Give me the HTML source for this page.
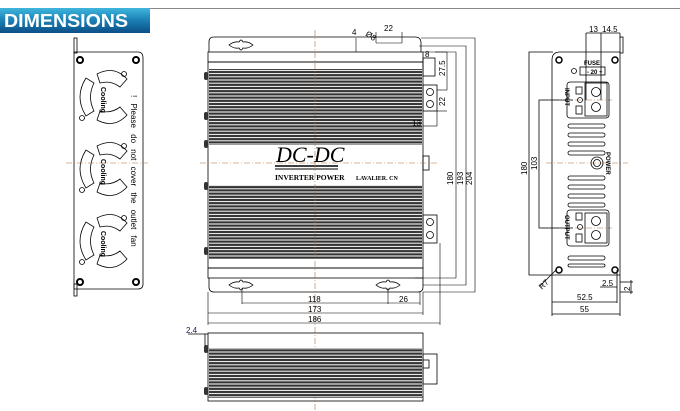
<!DOCTYPE html>
<html><head><meta charset="utf-8"><style>
html,body{margin:0;padding:0;background:#fff;width:680px;height:411px;overflow:hidden}
svg{display:block}
text{font-family:"Liberation Sans",sans-serif;fill:#000}
</style></head><body>
<svg width="680" height="411" viewBox="0 0 680 411" xmlns="http://www.w3.org/2000/svg">
<defs>
<linearGradient id="hg" x1="0" y1="0" x2="0" y2="1">
<stop offset="0" stop-color="#3fb6dc"/><stop offset="0.5" stop-color="#1a7fb4"/><stop offset="1" stop-color="#0b4f86"/>
</linearGradient>
<pattern id="fins" x="0" y="0" width="10" height="3.2" patternUnits="userSpaceOnUse">
<rect width="10" height="3.2" fill="#fff"/><rect y="0.5" width="10" height="2.2" fill="#333"/>
</pattern>
</defs>
<!-- header -->
<rect x="0" y="8" width="150" height="25" fill="url(#hg)"/>
<line x1="150" y1="8.5" x2="680" y2="8.5" stroke="#888" stroke-width="1"/>
<text x="4" y="27" font-size="18" font-weight="bold" fill="#fff" style="fill:#fff" textLength="124" lengthAdjust="spacingAndGlyphs">DIMENSIONS</text>

<g fill="none" stroke="#000" stroke-width="0.8">
<!-- left end view -->
<rect x="74" y="38" width="3" height="15"/>
<path d="M74 52 H138 Q143 52 143 58 V284 Q143 289 138 289 H74 Z"/>
<rect x="74" y="284" width="3" height="12"/>
<g stroke-width="2">
<circle cx="80" cy="60" r="3"/><circle cx="136" cy="60" r="3"/><circle cx="80" cy="282" r="3"/><circle cx="136" cy="282" r="3"/>
</g>
<g id="fan">
<path d="M86 78 q-12 19 0 38 l8 -5 q-7 -14 0 -28 z"/>
<path d="M97 74 q17 -9 30 5 l-7 8 q-9 -7 -20 -4 z"/>
<path d="M97 120 q17 9 30 -5 l-7 -8 q-9 7 -20 4 z"/>
<circle cx="124" cy="74" r="2.5"/><circle cx="82" cy="118" r="2.5"/>
</g>
<use href="#fan" y="72"/><use href="#fan" y="144"/>
</g>
<g font-size="7" font-weight="bold">
<text transform="translate(101,87) rotate(90)">Cooling</text>
<text transform="translate(101,159) rotate(90)">Cooling</text>
<text transform="translate(101,231) rotate(90)">Cooling</text>
<text transform="translate(131,95) rotate(90)" font-weight="normal" font-size="8" word-spacing="4">! Please do not cover the outlet fan</text>
</g>

<!-- main top view -->
<g fill="none" stroke="#000" stroke-width="0.8">
<path d="M209 52 V42 Q209 37 214 37 H415 Q421 37 421 43 V52"/>
<rect x="208" y="52" width="215" height="10"/>
<rect x="208" y="62" width="215" height="206"/>
<rect x="208" y="268" width="215" height="10"/>
<path d="M209 278 V287 Q209 292 214 292 H418 Q423 292 423 287 V278"/>
<path d="M229 45 q5 -4 10 -3 q2 -4 4 0 q5 -1 10 3 q-5 4 -10 3 q-2 4 -4 0 q-5 1 -10 -3z"/>
<path d="M229 285 q5 -4 10 -3 q2 -4 4 0 q5 -1 10 3 q-5 4 -10 3 q-2 4 -4 0 q-5 1 -10 -3z"/>
<path d="M376 285 q5 -4 10 -3 q2 -4 4 0 q5 -1 10 3 q-5 4 -10 3 q-2 4 -4 0 q-5 1 -10 -3z"/>
<rect x="423" y="58" width="12" height="18"/>
<rect x="423" y="85" width="14" height="26"/>
<circle cx="430" cy="92" r="3.5"/><circle cx="430" cy="104" r="3.5"/>
<rect x="423" y="156" width="6" height="14"/>
<rect x="423" y="215" width="14" height="28"/>
<circle cx="430" cy="222" r="3.5"/><circle cx="430" cy="235" r="3.5"/>
</g>
<rect x="209" y="69" width="213" height="76" fill="url(#fins)"/>
<rect x="209" y="185" width="213" height="74" fill="url(#fins)"/>
<g fill="#333"><rect x="204" y="72" width="4" height="8" rx="2"/><rect x="204" y="112" width="4" height="8" rx="2"/><rect x="204" y="140" width="4" height="8" rx="2"/><rect x="204" y="182" width="4" height="8" rx="2"/><rect x="204" y="247" width="4" height="8" rx="2"/></g>
<text x="276" y="162" font-size="22" font-style="italic" style="font-family:'Liberation Serif',serif">DC-DC</text>
<line x1="275" y1="166" x2="338" y2="166" stroke="#000" stroke-width="1.5"/>
<line x1="275" y1="169" x2="338" y2="169" stroke="#000" stroke-width="1"/>
<text x="275" y="180" font-size="7.5" font-weight="bold" style="font-family:'Liberation Serif',serif">INVERTER POWER</text>
<text x="356" y="180" font-size="6" font-weight="bold" style="font-family:'Liberation Serif',serif">LAVALIER. CN</text>

<g stroke="#b07040" stroke-width="0.6" stroke-dasharray="6,2,1,2">
<line x1="315" y1="30" x2="315" y2="411"/>
<line x1="66" y1="163" x2="148" y2="163"/>
<line x1="200" y1="163" x2="438" y2="163"/>
<line x1="546" y1="163" x2="628" y2="163"/>
<line x1="542" y1="100" x2="612" y2="100"/>
<line x1="542" y1="228" x2="612" y2="228"/>
</g>

<g fill="none" stroke="#000" stroke-width="0.6">
<polyline points="423,52 456,52 456,278 415,278"/>
<polyline points="419,46 466,46 466,285 423,285"/>
<polyline points="421,38 475,38 475,292 423,292"/>
<line x1="376" y1="43" x2="402" y2="43"/><line x1="376" y1="32" x2="376" y2="43"/><line x1="402" y1="32" x2="402" y2="43"/>
<line x1="356" y1="38" x2="356" y2="52"/>
<line x1="435" y1="52" x2="447" y2="52"/><line x1="447" y1="52" x2="447" y2="90"/>
<line x1="437" y1="90" x2="447" y2="90"/><line x1="437" y1="111" x2="447" y2="111"/>
<line x1="423" y1="126" x2="437" y2="126"/><line x1="437" y1="111" x2="437" y2="126"/>
<line x1="242" y1="288" x2="242" y2="304"/><line x1="388" y1="288" x2="388" y2="304"/><line x1="242" y1="303" x2="388" y2="303"/>
<line x1="388" y1="303" x2="420" y2="303"/><line x1="420" y1="292" x2="420" y2="305"/>
<line x1="208" y1="313" x2="423" y2="313"/><line x1="423" y1="292" x2="423" y2="315"/>
<line x1="208" y1="323" x2="440" y2="323"/><line x1="440" y1="243" x2="440" y2="325"/><line x1="208" y1="292" x2="208" y2="325"/>
</g>
<g font-size="8" style="fill:#1a1a60">
<text x="308" y="302">118</text><text x="399" y="302">26</text>
<text x="308" y="312">173</text><text x="308" y="322">186</text>
<text x="384" y="31">22</text><text x="365" y="35" transform="rotate(35 365 35)">Ø8</text>
<text x="352" y="35">4</text><text x="425" y="57">8</text><text x="412" y="126">13</text>
<text transform="translate(453,185) rotate(-90)">180</text>
<text transform="translate(463,185) rotate(-90)">193</text>
<text transform="translate(472,185) rotate(-90)">204</text>
<text transform="translate(445,76) rotate(-90)">27.5</text>
<text transform="translate(445,106) rotate(-90)">22</text>
</g>

<g fill="none" stroke="#000" stroke-width="0.8">
<rect x="208" y="333" width="215" height="68"/>
<line x1="208" y1="397" x2="423" y2="397"/>
<rect x="423" y="354" width="14" height="30"/><rect x="423" y="360" width="6" height="8"/>
<line x1="205" y1="334" x2="205" y2="352"/><line x1="188" y1="334" x2="208" y2="334"/>
</g>
<rect x="209" y="348" width="213" height="50" fill="url(#fins)"/>
<g fill="#333"><rect x="204" y="345" width="4" height="8" rx="2"/><rect x="204" y="387" width="4" height="8" rx="2"/></g>
<text x="186" y="333" font-size="8" style="fill:#1a1a60">2.4</text>

<g fill="none" stroke="#000" stroke-width="0.8">
<path d="M560 52 H620 V275 H552 V60 Q552 52 560 52Z"/>
<rect x="620" y="37" width="3" height="16"/>
<circle cx="559" cy="60" r="3" stroke-width="1.5"/><circle cx="615" cy="60" r="3" stroke-width="1.5"/>
<circle cx="559" cy="270" r="3" stroke-width="1.5"/><circle cx="615" cy="270" r="3" stroke-width="1.5"/>
<rect x="580" y="67" width="25" height="8"/><circle cx="574" cy="71" r="2.5"/>
<rect x="567" y="82" width="42" height="36" rx="3"/><rect x="585" y="83" width="22" height="33"/>
<circle cx="596" cy="92" r="4.5"/><circle cx="596" cy="107" r="4.5"/>
<rect x="576" y="87" width="6" height="7"/><rect x="576" y="106" width="6" height="8"/><circle cx="580" cy="100" r="2.5"/>
<rect x="567" y="210" width="42" height="36" rx="3"/><rect x="585" y="213" width="22" height="30"/>
<circle cx="596" cy="221" r="4.5"/><circle cx="596" cy="235" r="4.5"/>
<rect x="576" y="213" width="6" height="7"/><rect x="576" y="234" width="6" height="8"/><circle cx="580" cy="227" r="2.5"/>
<circle cx="597" cy="163" r="6"/><circle cx="597" cy="163" r="3.5"/>
<g><rect x="568" y="124" width="37" height="4" rx="2"/><rect x="568" y="133" width="37" height="4" rx="2"/><rect x="568" y="142" width="37" height="4" rx="2"/><rect x="568" y="151" width="37" height="4" rx="2"/>
<rect x="568" y="176" width="37" height="4" rx="2"/><rect x="568" y="185" width="37" height="4" rx="2"/><rect x="568" y="194" width="37" height="4" rx="2"/><rect x="568" y="203" width="37" height="4" rx="2"/>
<rect x="568" y="256" width="37" height="4" rx="2"/><rect x="568" y="264" width="37" height="3" rx="1.5"/></g>
<polyline points="553,52 529,52 529,275 552,275"/>
<polyline points="573,100 539,100 539,228 573,228"/>
<line x1="586" y1="33" x2="586" y2="100"/><line x1="601" y1="33" x2="601" y2="100"/><line x1="586" y1="33" x2="620" y2="33"/><line x1="620" y1="33" x2="620" y2="38"/>
<line x1="552" y1="275" x2="552" y2="316"/><line x1="620" y1="275" x2="620" y2="316"/>
<line x1="552" y1="302" x2="617" y2="302"/><line x1="617" y1="270" x2="617" y2="303"/>
<line x1="552" y1="314" x2="620" y2="314"/>
<line x1="600" y1="287" x2="617" y2="287"/>
<line x1="620" y1="282" x2="633" y2="282"/><line x1="620" y1="292" x2="633" y2="292"/><line x1="631" y1="280" x2="631" y2="294"/>
<line x1="540" y1="286" x2="556" y2="270"/>
</g>
<g font-size="8" style="fill:#1a1a60">
<text x="589" y="32">13</text><text x="602" y="32">14.5</text>
<text x="602" y="286">2.5</text><text x="577" y="300">52.5</text><text x="580" y="312">55</text>
<text transform="translate(542,290) rotate(-45)">R7</text>
<text transform="translate(630,291) rotate(-90)">2</text>
<text transform="translate(527,175) rotate(-90)">180</text>
<text transform="translate(537,170) rotate(-90)">103</text>
</g>
<g font-size="6" font-weight="bold">
<text x="584" y="65">FUSE</text><text x="587" y="74">- 20 +</text>
<text transform="translate(565,88) rotate(90)">INPUT</text>
<text transform="translate(565,215) rotate(90)">OUTPUT</text>
<text transform="translate(606,152) rotate(90)">POWER</text>
</g>
</svg>
</body></html>
